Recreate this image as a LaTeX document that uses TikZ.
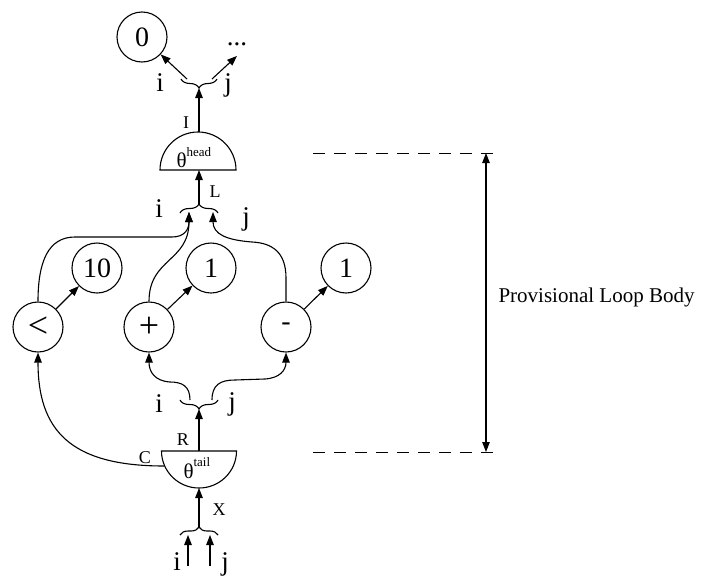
\documentclass[tikz,border=0pt]{standalone}
\usepackage{fontspec}
\setmainfont{Liberation Serif}
\usetikzlibrary{arrows.meta,decorations.pathreplacing}
\newcommand\fsz[1]{\fontsize{#1}{#1}\selectfont}
\begin{document}
\begin{tikzpicture}[x=1pt,y=-1pt,
  line width=1.1pt,
  arr/.style={-{Triangle[length=10pt,width=7.5pt]}},
  dblarr/.style={{Triangle[length=10pt,width=7.5pt]}-{Triangle[length=10pt,width=7.5pt]}},
  val/.style={circle,draw,minimum size=50pt,inner sep=0pt,font=\fsz{28}},
  op/.style={val,font=\fsz{36}},
  idx/.style={anchor=base,inner sep=0pt,font=\fsz{27}},
  port/.style={anchor=base,inner sep=0pt,font=\fsz{18}},
  gate/.style={anchor=base west,inner sep=0pt,font=\fsz{21}},
  brc/.style={decorate,decoration={brace,amplitude=#1}},
  mbrc/.style={decorate,decoration={brace,mirror,amplitude=#1}},
  guide/.style={dash pattern=on 12pt off 9pt,line width=1pt},
]
\useasboundingbox (0,0) rectangle (702,576);

% value and operator nodes
\node[val] (zero) at (142,37) {0};
\node[anchor=base,inner xsep=0pt,inner ysep=10pt,font=\fsz{27}] (dots) at (237,45) {...};
\node[op]  (lt)    at (38,327)  {<};
\node[val] (c10)   at (97,268)  {10};
\node[op]  (plus)  at (149,327) {+};
\node[val] (c1a)   at (211,268) {1};
\node[val] (minus) at (286,327) {-};
\node[val] (c1b)   at (346,268) {1};

% theta gates
\draw (160,170) arc[start angle=180,end angle=360,radius=38] -- cycle;
\node[gate] (head) at (176,167) {θ\raisebox{0.48em}{\fsz{13}head}};
\draw (161.5,451) arc[start angle=180,end angle=0,x radius=37.5,y radius=37] -- cycle;
\node[gate] (tail) at (183,478) {θ\raisebox{0.55em}{\fsz{13}tail}};
\coordinate (hTop) at (199,132);
\coordinate (hBot) at (199,170);
\coordinate (tTop) at (199,451);
\coordinate (tBot) at (199,488);
\coordinate (tC)   at (164,466);

% tuple braces
\draw[mbrc=9pt] (181,79) -- (217,79);
\coordinate (topTip) at (199,88);
\coordinate (topI) at (187,79);
\coordinate (topJ) at (212,79);
\draw[brc=9pt] (180,213) -- (218,213);
\coordinate (midTip) at (199,204);
\coordinate (midI) at (189,212);
\coordinate (midJ) at (213,212);
\draw[mbrc=9pt] (180,400) -- (218,400);
\coordinate (lowTip) at (199,409);
\coordinate (lowI) at (190,400);
\coordinate (lowJ) at (212,400);
\draw[brc=8pt] (180,535) -- (218,535);
\coordinate (botTip) at (199,527);
\coordinate (botI) at (188,535);
\coordinate (botJ) at (210,535);
\coordinate (inI) at (188,566);
\coordinate (inJ) at (210,566);

% connectors
\draw[arr] (hTop) -- (topTip);
\draw[arr] (topI) -- (zero);
\draw[arr] (topJ) -- (dots.south);
\draw[arr] (midTip) -- (hBot);
\draw[arr] (lt.north) .. controls (38,262) and (48,237) .. (75,237) -- (172,237)
  .. controls (184,237) and (189,230) .. (midI);
\draw[arr] (plus.north) .. controls (149,258) and (189,262) .. (midI);
\draw[arr] (minus.north) -- (286,278) .. controls (286,252) and (272,243) .. (252,242)
  .. controls (226,240) and (213,234) .. (midJ);
\draw[arr] (lt) -- (c10);
\draw[arr] (plus) -- (c1a);
\draw[arr] (minus) -- (c1b);
\draw[arr] (lowI) .. controls (190,386) and (182,382) .. (170,382)
  .. controls (155,381) and (149,372) .. (plus.south);
\draw[arr] (lowJ) .. controls (212,385) and (220,380) .. (235,380) -- (265,379)
  .. controls (280,378) and (286,370) .. (minus.south);
\draw[arr] (tTop) -- (lowTip);
\draw[arr] (tC) .. controls (70,466) and (38,430) .. (lt.south);
\draw[arr] (botTip) -- (tBot);
\draw[arr] (inI) -- (botI);
\draw[arr] (inJ) -- (botJ);

% port labels
\node[idx] at (160,91) {i};
\node[idx] at (228,91) {j};
\node[port] at (186,128) {I};
\node[port] at (215,197) {L};
\node[idx] at (159,217) {i};
\node[idx] at (246,225) {j};
\node[idx] at (159,412) {i};
\node[idx] at (232,410) {j};
\node[port] at (183,445) {R};
\node[port] at (145,463) {C};
\node[port] at (219,515) {X};
\node[idx] at (177,570) {i};
\node[idx] at (225,570) {j};

% loop body extent
\coordinate (gTop) at (486,153);
\coordinate (gBot) at (486,452);
\draw[guide] (313,153) -- (498,153);
\draw[guide] (313,452) -- (498,452);
\draw[dblarr] (gTop) -- (gBot);
\node[anchor=base west,inner sep=0pt,font=\fsz{21}] (body) at (498,302) {Provisional Loop Body};
\end{tikzpicture}
\end{document}
